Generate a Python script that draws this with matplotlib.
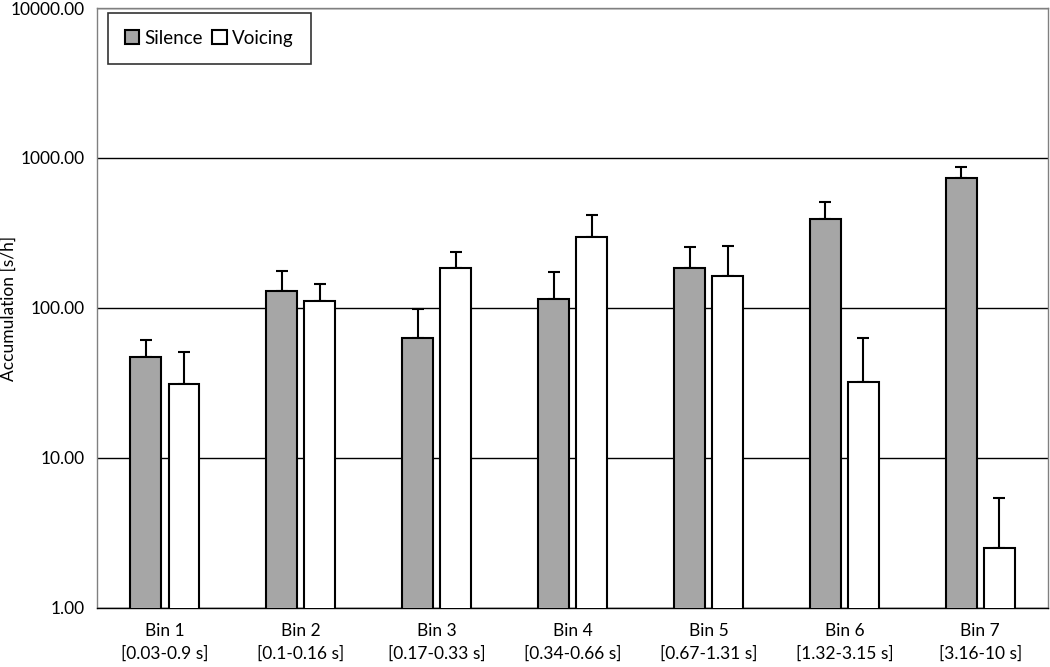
import matplotlib
matplotlib.use('Agg')
import matplotlib.pyplot as plt
from matplotlib.ticker import FixedLocator, FuncFormatter, NullLocator
import numpy as np

# values (log scale)
bins = ['Bin 1\n[0.03-0.9 s]', 'Bin 2\n[0.1-0.16 s]', 'Bin 3\n[0.17-0.33 s]',
        'Bin 4\n[0.34-0.66 s]', 'Bin 5\n[0.67-1.31 s]', 'Bin 6\n[1.32-3.15 s]',
        'Bin 7\n[3.16-10 s]']
silence = [47, 130, 63, 115, 185, 392, 735]
silence_err = [14, 46, 35, 59, 70, 117, 136]
voicing = [31, 111, 185, 297, 163, 32, 2.5]
voicing_err = [20, 34, 51, 120, 96, 31, 2.9]

plt.rcParams['font.family'] = ['Lato', 'DejaVu Sans']

fig = plt.figure(figsize=(10.5, 6.67), dpi=100)
ax = fig.add_axes([0.0924, 0.0885, 0.906, 0.8995])

x = np.arange(len(bins))
w = 0.228
off = 0.14
ax.bar(x - off, silence, w, color='#a6a6a6', edgecolor='black', linewidth=1.5,
       label='Silence', zorder=3)
ax.bar(x + off, voicing, w, color='white', edgecolor='black', linewidth=1.5,
       label='Voicing', zorder=3)
ax.errorbar(x - off, silence, yerr=[np.zeros(len(x)), silence_err], fmt='none',
            ecolor='black', elinewidth=1.5, capsize=4, capthick=1.5, zorder=2)
ax.errorbar(x + off, voicing, yerr=[np.zeros(len(x)), voicing_err], fmt='none',
            ecolor='black', elinewidth=1.5, capsize=4, capthick=1.5, zorder=2)

ax.set_yscale('log')
ax.set_ylim(1, 10000)
ax.set_xlim(-0.5, 6.5)
ax.yaxis.set_major_locator(FixedLocator([1, 10, 100, 1000, 10000]))
ax.yaxis.set_minor_locator(NullLocator())
ax.yaxis.set_major_formatter(FuncFormatter(lambda v, p: f'{v:.2f}'))
ax.grid(axis='y', color='black', linewidth=1, zorder=0)
ax.set_xticks(x)
ax.set_xticklabels(bins, fontsize=12.5, linespacing=1.45)
ax.tick_params(axis='x', length=0, labelsize=12.5, pad=11)
ax.tick_params(axis='y', length=0, labelsize=12.5, pad=9)
ax.set_ylabel('Accumulation [s/h]', fontsize=12.5)
ax.yaxis.set_label_coords(-0.084, 0.5)
for s in ax.spines.values():
    s.set_color('#808080')
    s.set_linewidth(1)
ax.spines['bottom'].set_color('black')

leg = ax.legend(loc='upper left', ncol=2, fontsize=13.5, frameon=True, fancybox=False,
                edgecolor='black', borderpad=0.9, handlelength=0.75, handleheight=0.75,
                handletextpad=0.3, columnspacing=0.5, borderaxespad=0,
                bbox_to_anchor=(0.0116, 0.992))
leg.get_frame().set_linewidth(1.2)

fig.savefig('out.png', dpi=100, facecolor='white')
